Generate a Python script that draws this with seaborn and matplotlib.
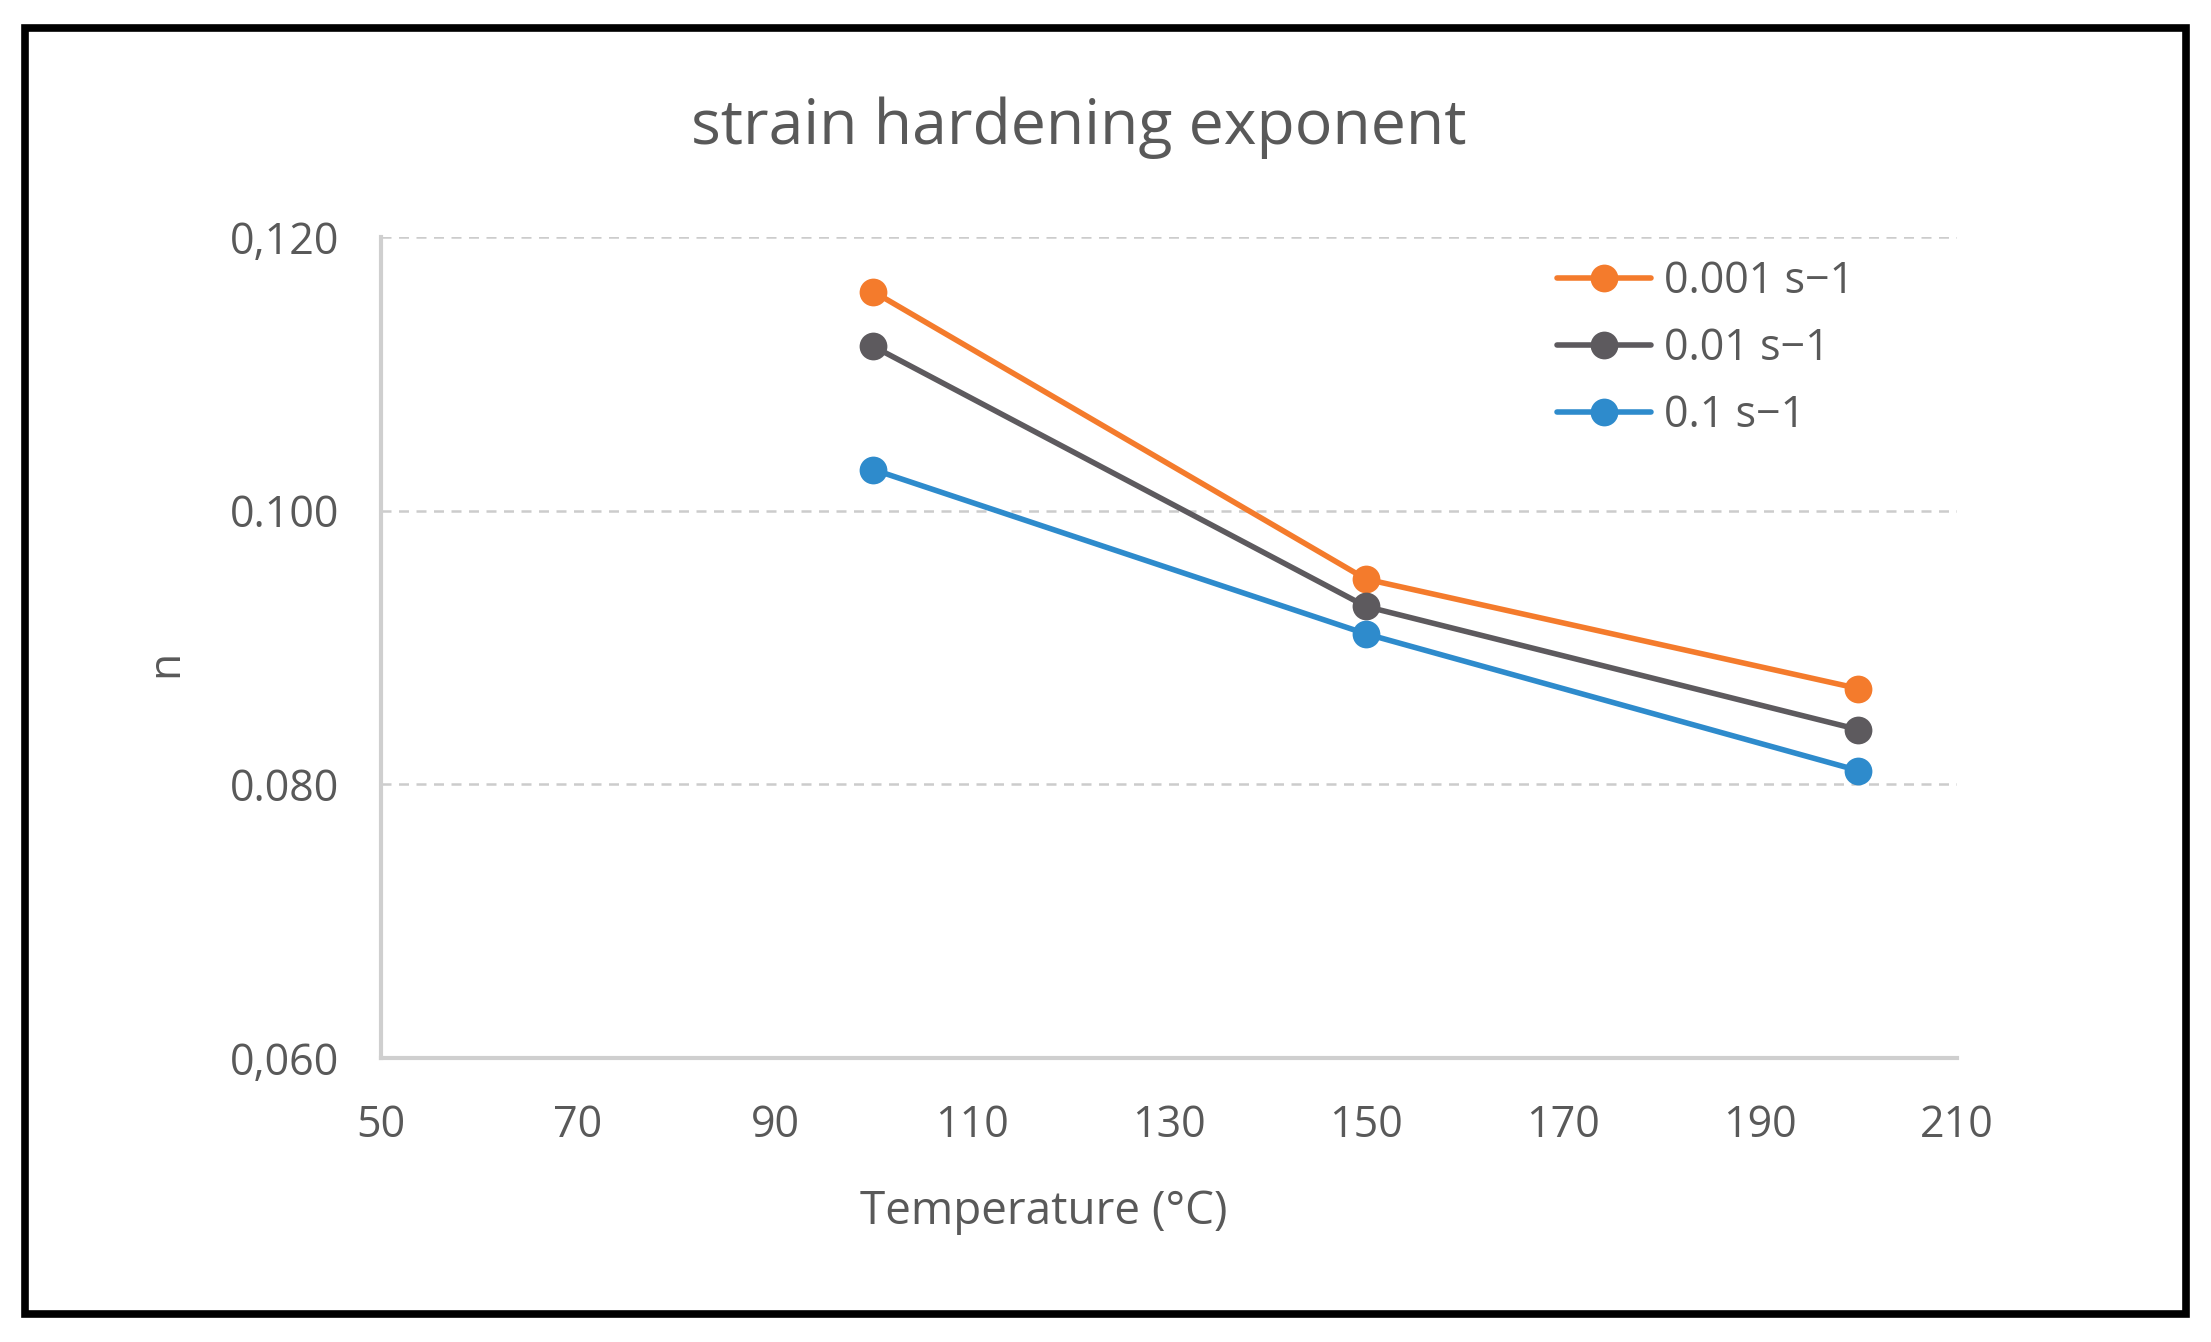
import pandas as pd
import matplotlib.pyplot as plt
import seaborn as sns
from matplotlib.patches import Rectangle

# values
temperature = [100, 150, 200]
rate_labels = ['0.001 s\u22121', '0.01 s\u22121', '0.1 s\u22121']
n_0001 = [0.116, 0.095, 0.087]
n_001 = [0.112, 0.093, 0.084]
n_01 = [0.103, 0.091, 0.081]
x_ticks = [50, 70, 90, 110, 130, 150, 170, 190, 210]
y_ticks = [0.060, 0.080, 0.100, 0.120]
y_tick_labels = ['0,060', '0.080', '0.100', '0,120']
colors = ['#F47B2C', '#5D5A5E', '#2E8BCC']

rows = []
for lab, vals in zip(rate_labels, [n_0001, n_001, n_01]):
    for t, v in zip(temperature, vals):
        rows.append({'T': t, 'n': v, 'rate': lab})
df = pd.DataFrame(rows)

sns.set_theme(style='white')
plt.rcParams['font.family'] = ['Open Sans', 'DejaVu Sans']
txt = '#595959'

fig = plt.figure(figsize=(22.11, 13.42), dpi=100)
ax = fig.add_axes([0.1723, 0.2116, 0.7128, 0.6118])

sns.lineplot(data=df, x='T', y='n', hue='rate', hue_order=rate_labels,
             palette=dict(zip(rate_labels, colors)), marker='o', markersize=20,
             markeredgewidth=0, linewidth=4, dashes=False, ax=ax)

ax.set_xlim(50, 210)
ax.set_ylim(0.060, 0.120)
ax.set_xticks(x_ticks)
ax.set_yticks(y_ticks)
ax.set_yticklabels(y_tick_labels)
ax.tick_params(axis='both', labelsize=31, colors=txt, length=0)
ax.tick_params(axis='x', pad=33)
ax.tick_params(axis='y', pad=30)
for s in ['top', 'right']:
    ax.spines[s].set_visible(False)
for s in ['left', 'bottom']:
    ax.spines[s].set_color('#CFCFCF')
    ax.spines[s].set_linewidth(3)
for yv in y_ticks[1:]:
    ax.axhline(yv, color='#CCCCCC', linewidth=1.8, linestyle=(0, (4, 3)), zorder=0)

ax.set_xlabel('')
ax.set_ylabel('')
fig.text(0.472, 0.097, 'Temperature (\u00b0C)', ha='center', va='center', fontsize=33, color=txt)
fig.text(0.075, 0.506, 'n', ha='center', va='center', rotation=90, fontsize=32, color=txt)
fig.text(0.488, 0.905, 'strain hardening exponent', ha='center', va='center', fontsize=45, color=txt)

leg = ax.legend(loc='upper left', bbox_to_anchor=(0.735, 0.993), frameon=False,
                fontsize=31, handlelength=2.2, handletextpad=0.3, labelspacing=0.52,
                borderaxespad=0)
for t in leg.get_texts():
    t.set_color(txt)

fig.patches.append(Rectangle((25 / 2211, 28 / 1342), 2161 / 2211, 1286 / 1342,
                             transform=fig.transFigure, fill=False,
                             edgecolor='black', linewidth=5.5))

plt.savefig('out.png', dpi=100)
